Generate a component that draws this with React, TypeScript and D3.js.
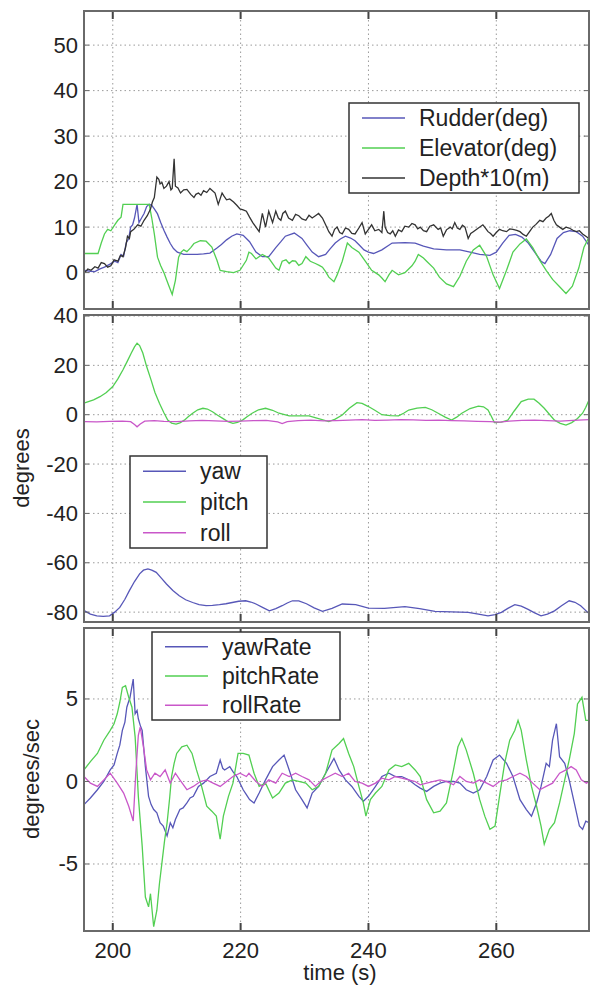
import { line, scaleLinear } from 'd3'

type Pt = [number, number]

// top panel
const rudder: Pt[] = [[195.6,0.5],[196.5,0.3],[197.2,0.2],[198,0.8],[198.7,1.2],[199.5,1.8],[200.3,2.5],[200.8,2.2],[201.3,4],[201.7,3.6],[202.1,6.5],[202.5,7.5],[202.8,10],[203.1,10.5],[203.4,12],[203.8,15],[204.1,11],[204.5,12],[204.9,13],[205.3,14.5],[205.7,15],[206.1,14.8],[206.5,14],[207,12.9],[207.5,11],[208,9.3],[208.5,7.8],[209,6.4],[209.5,5.3],[210.1,4.5],[211.1,4],[212,4],[213.2,4],[214.2,4.1],[215.2,4.3],[216.3,5.4],[217,6.2],[217.8,7.2],[218.6,8],[219.4,8.5],[220.4,8.2],[221.4,6.8],[222.4,4.5],[223.4,3.5],[224.4,3.5],[225.5,5.5],[226.3,6.8],[227,8],[228.4,8.7],[229.6,7.5],[230.4,6],[231.2,4.5],[232.2,3.5],[233.3,4],[234,5.2],[234.8,6.5],[235.6,7.4],[236.4,8],[237.2,7.6],[237.9,7],[238.6,6],[239.3,5],[240,4.5],[240.8,4.2],[242.1,5],[243.7,6.5],[245.7,6.6],[247.3,6.5],[248.6,5.8],[250.2,5.2],[252.2,5],[254.3,5],[255.9,4.5],[257.4,4],[259,3.8],[260,4.5],[261,6.5],[262,8.2],[263,8.4],[264,7.8],[265,6.5],[266,4.5],[267,2.5],[267.6,2],[268.5,4],[269.5,7.5],[270.5,8.8],[271.5,9.2],[272.5,9],[273.5,8],[274.5,6]]
const elevator: Pt[] = [[195.6,4.2],[196.5,4.2],[197.7,4.2],[198.2,6.5],[198.7,8.5],[199.2,9.5],[199.7,9.2],[200.3,10.5],[200.8,11.5],[201.3,12.2],[201.6,15],[203,15],[204.5,15],[205.7,15],[206.1,12],[206.5,8.5],[207,3.4],[207.5,1.5],[208,0],[208.4,-1.5],[208.8,-3],[209.3,-4.8],[209.8,-1.7],[210.3,3.4],[210.7,4.5],[211.1,5],[211.6,4.6],[212.2,5.5],[212.7,6.4],[213.7,7],[214.6,6.9],[215.5,5.6],[216.3,2.7],[216.8,0.5],[217.8,0.2],[218.9,0],[219.9,0.5],[220.9,2.7],[221.3,4.5],[221.7,4.2],[222.4,3],[223.4,4],[224.4,3.2],[225.5,1],[226,0.5],[226.5,2.5],[227.1,2.8],[227.6,2],[228.1,2.6],[228.6,2.5],[229.1,1.6],[229.6,2],[230.2,3.5],[230.9,2.5],[231.7,2],[232.3,1.6],[232.8,1.2],[233.3,0.2],[233.8,-1],[234.6,-2],[235.1,-0.5],[235.9,2.5],[236.3,4.5],[236.7,6.5],[237.4,5.5],[238.5,4.5],[239.5,2.5],[240.5,0.5],[241.6,-0.5],[242.1,-1.2],[242.6,-2],[243.2,-0.5],[243.7,0.5],[244.7,-0.5],[245.7,0],[246.8,1.5],[247.3,2.5],[247.8,4],[248.6,3.2],[249.1,2.5],[250.2,1],[251.1,-1],[252.2,-2.5],[253.3,-3.1],[254.3,-0.8],[255.3,2.5],[256.4,5],[257.4,6],[258.5,3.5],[259.5,-0.5],[260.5,-3.5],[261.6,0.5],[262.6,4.5],[263.7,6.3],[264.7,7.4],[265.7,5.5],[266.8,2.7],[267.8,0.5],[268.8,-1.5],[269.9,-3.1],[270.9,-4.6],[271.9,-3],[272.9,1],[273.7,5.5],[274.5,7.8]]
const depth: Pt[] = [[195.6,0],[196.1,0.8],[196.6,0.5],[197.2,1.3],[197.7,1],[198.2,2.2],[198.7,2],[199.2,1.2],[199.7,1.5],[200.2,2.8],[200.8,2.5],[201.2,3.8],[201.6,3.5],[202,5.5],[202.3,8],[202.6,7.5],[202.8,9],[203.3,9.5],[203.9,10.5],[204.4,10.2],[204.9,11.5],[205.4,12.5],[205.9,14],[206.2,15.5],[206.5,16.5],[206.9,21],[207.2,20.5],[207.4,19.5],[207.7,19.8],[208,18.5],[208.4,19],[208.8,20],[209.1,18.2],[209.3,18.5],[209.6,25],[209.8,19],[210.2,18.6],[210.6,17.5],[211.1,18.2],[211.6,18.3],[212.2,17.2],[212.7,16.5],[213,17.2],[213.4,17.5],[213.8,17],[214.2,18],[214.7,17.6],[215.2,18.5],[215.6,18],[216,17.5],[216.5,15],[217.1,17.5],[217.4,16.8],[217.8,16],[218.3,16.2],[218.9,15.5],[219.4,14.8],[219.9,14],[220.4,13.8],[220.9,13.5],[221.4,12.2],[221.9,11],[222.4,10],[222.9,9],[223.4,13],[223.9,10],[224.4,13.5],[225,11],[225.5,13.5],[225.9,12],[226.3,11.5],[226.6,13],[227,13.5],[227.5,12],[228.1,11.5],[228.6,12.8],[229.1,12.5],[229.6,11.8],[230.2,11.5],[230.7,12.6],[231.2,12],[231.7,12.5],[232.2,13],[232.8,12],[233.3,10.5],[233.8,9],[234.3,8],[234.7,9.5],[235.1,10],[235.5,8.8],[235.9,8.5],[236.4,9.8],[236.9,9.5],[237.4,8.6],[237.9,8.5],[238.5,9.8],[239,11],[239.5,8.5],[240,9.5],[240.5,10.5],[241,9.2],[241.6,9.5],[242.1,8.8],[242.4,13.5],[242.6,10],[243,8.8],[243.4,8.5],[243.8,9.2],[244.2,8],[244.7,9.4],[245.2,9],[245.7,10.2],[246.3,10],[246.8,10.8],[247.3,10.5],[247.7,9.6],[248.1,10],[248.6,9.2],[249.1,9],[249.6,10.2],[250.2,10.5],[250.9,9.5],[251.3,9.8],[251.7,8],[252.2,9.4],[252.8,10],[253.1,9.6],[253.5,11],[253.9,9.8],[254.3,9.5],[254.7,10.4],[255.1,10],[255.6,7.5],[256,8.6],[256.4,9],[257.2,9.8],[257.9,10.5],[258.3,9.8],[258.7,9],[259.1,8.6],[259.5,8],[260,8.8],[260.5,9.5],[261,9.2],[261.6,9],[262.1,9.6],[262.6,9.5],[263.2,9.3],[263.7,9],[264.2,8.4],[264.7,8],[265.2,9],[265.7,10],[266.2,10.6],[266.8,11.5],[267.3,11.2],[267.8,12],[268.2,12.4],[268.6,13],[269,11.5],[269.4,10.5],[269.9,10],[270.4,9.5],[270.9,10],[271.4,9.8],[272,9.3],[272.5,9],[273,9.2],[273.5,8.5],[274,8],[274.5,7.5]]

// middle panel
const yaw: Pt[] = [[195.6,-79.5],[196.5,-80.8],[197.5,-81.5],[198.5,-81.7],[199.5,-81.5],[200.3,-80],[201.1,-78.1],[201.9,-74.8],[202.6,-71.3],[203.4,-67.6],[204.2,-64.5],[204.8,-63],[205.5,-62.5],[206.1,-63],[206.8,-63.9],[207.6,-66.2],[208.4,-68.6],[209.4,-71.2],[210.4,-73.4],[211.4,-75],[212.5,-76.1],[213.5,-77],[214.6,-77.4],[215.6,-77.3],[216.7,-77],[217.7,-76.6],[218.7,-76.1],[219.7,-75.6],[220.8,-75.4],[221.6,-75.9],[222.4,-76.7],[223.5,-78.2],[224.5,-79.5],[225.5,-78.6],[226.5,-77.4],[227.3,-76.3],[228.1,-75.4],[229.1,-75.4],[230.3,-76.6],[231.5,-78.3],[232.8,-79.7],[234.3,-78.5],[235.9,-76.7],[238,-77],[240,-78.4],[242.5,-78.5],[245.7,-77.8],[248,-78.6],[250.4,-79.7],[253,-79.9],[255.6,-80.1],[257.2,-80.8],[258.7,-81.5],[259.8,-81],[260.8,-80.1],[261.8,-78.5],[262.9,-77],[263.9,-77.6],[264.9,-78.8],[266,-80.3],[267,-81.5],[268,-80.8],[269.1,-79.5],[270.2,-77.4],[271.4,-75.4],[272.3,-76],[273.2,-77.4],[274.3,-80.1],[274.5,-80.5]]
const pitch: Pt[] = [[195.6,4.8],[197,6],[198,7.3],[199,9],[200,11.4],[200.8,14.5],[201.6,18.2],[202.3,21.8],[202.9,25],[203.4,27.5],[203.8,29],[204.2,28],[204.7,25],[205.3,19.5],[206,14],[206.6,9],[207.3,4.6],[208,0.8],[208.6,-2.2],[209.2,-3.4],[209.9,-3.8],[210.5,-3.3],[211.2,-2.2],[211.8,-0.8],[212.5,0.6],[213.3,2],[214.1,2.6],[214.8,2.3],[215.6,1.2],[216.4,-0.2],[217.2,-1.5],[218,-2.8],[218.8,-3.5],[219.5,-3.1],[220.3,-2.2],[221,-0.8],[221.8,0.6],[222.8,2],[223.9,2.6],[225,1.8],[226,0.6],[227.6,-0.5],[229.1,-0.5],[230.7,-0.5],[232.2,-1.6],[233.8,-2.8],[234.8,-1.8],[235.9,-0.1],[237,2.6],[238.2,4.9],[239,4.6],[240,3.3],[241,1.8],[242.1,0],[243.4,-0.4],[244.7,-0.5],[245.5,0.6],[246.3,1.9],[247.6,2.7],[248.9,3],[249.9,2],[250.9,0.6],[252,-1],[253,-2.2],[253.8,-1],[254.6,0.6],[255.9,2.5],[257.2,3.5],[258,3.2],[258.7,1.9],[259.2,-0.5],[259.7,-3.2],[260.8,-3],[261.8,-2.2],[262.8,1.5],[263.9,5.3],[265,6.3],[265.9,6.3],[266.7,4.6],[267.5,2.6],[268.3,0.2],[269.1,-2.2],[270,-3.5],[270.9,-4.2],[271.8,-3.2],[272.7,-1.5],[273.5,0.6],[274,3],[274.5,6]]
const roll: Pt[] = [[195.6,-2.8],[197.5,-2.9],[199.5,-2.7],[201.5,-2.6],[202.8,-2.8],[203.4,-4],[203.8,-4.9],[204.3,-3.8],[205,-2.6],[206.5,-2.4],[208,-2.7],[210,-2.8],[212,-2.5],[214,-2.3],[216,-2.5],[218,-2.7],[220,-2.6],[222,-2.4],[224,-2.3],[225.8,-2.9],[226.5,-3.6],[227.3,-2.8],[229,-2.4],[231,-2.2],[233,-2.5],[235,-2.4],[237,-2.2],[239,-2],[241,-2.3],[243,-2.2],[245,-2],[247,-2.1],[249,-2.3],[251,-2.2],[253,-2.4],[255,-2.5],[257,-2.7],[259,-2.8],[260.5,-3],[262,-2.6],[264,-2.3],[266,-2.2],[268,-2.4],[270,-2.6],[272,-2.3],[274.5,-2]]

// bottom panel
const yawRate: Pt[] = [[195.5,-1.4],[196.5,-1],[197.6,-0.5],[198.6,0],[199.6,0.7],[200.2,1],[200.7,1.7],[201.1,2.2],[201.5,3.1],[201.9,3.6],[202.2,4.5],[202.7,5.1],[203.2,6.2],[203.5,4.1],[203.8,4.3],[204,3.8],[204.3,3.4],[204.6,3.1],[205.1,0.9],[205.6,-0.9],[206,-1.4],[206.4,-1.7],[206.9,-1.9],[207.4,-2.5],[207.9,-2.7],[208.5,-3.3],[209,-2.5],[209.4,-2.8],[209.8,-2.3],[210.5,-1.7],[211,-1.6],[211.6,-1.3],[212.1,-1],[212.6,-0.9],[213,-0.6],[213.4,-0.3],[214.2,-0.1],[215.2,0.3],[216.2,0.5],[216.8,1.3],[217.2,0.8],[217.5,0.7],[218.3,0.9],[218.8,0.6],[219.4,0.3],[220.4,-0.5],[220.9,-0.8],[221.4,-1.1],[222.1,-1.3],[222.9,-0.7],[223.9,0.1],[225,0.9],[226,1.3],[226.8,1.6],[227.6,0.7],[228.6,-0.5],[229.6,-1.1],[230.4,-1.6],[231.2,-0.7],[232.2,-0.3],[233.3,0.5],[234.6,1.4],[235.4,0.7],[236.4,0.1],[237.4,-0.3],[238.5,-0.9],[239.2,-1.2],[240,-0.9],[241.1,-0.3],[242.1,0.3],[243.2,0.5],[244.2,0.3],[245.2,0.3],[246.3,0.1],[247.3,-0.2],[248.1,-0.4],[249.1,-0.6],[250.2,-0.3],[251.2,-0.1],[252.2,0],[253.3,0],[254.3,-0.1],[255.3,-0.5],[256.4,-0.7],[257.4,-0.5],[258.5,0.3],[259.5,1.3],[260.5,1.6],[261.6,1.1],[262.6,0.3],[263.7,-1.1],[264.7,-1.7],[265.5,-2.1],[266.3,-1.3],[267,-0.3],[267.8,1.1],[268.3,0.9],[268.8,2.5],[269.4,3.5],[269.9,1.5],[270.7,1.1],[271.4,0.1],[272.2,-1.3],[273,-2.7],[273.5,-2.9],[274,-2.4],[274.5,-2.5]]
const pitchRate: Pt[] = [[195.5,0.7],[196.5,1.2],[197.6,1.7],[198.6,2.5],[199.6,3.1],[200.2,3.5],[200.7,4.1],[201.1,4.8],[201.5,5.7],[202,5.8],[202.5,5.1],[203,4.5],[203.5,2.7],[204,-0.9],[204.6,-3.9],[205.1,-7],[205.6,-7.6],[205.9,-6.8],[206.4,-8.8],[206.9,-7.8],[207.3,-6.2],[207.7,-4.9],[208.1,-3.6],[208.5,-2.5],[208.9,-1],[209.2,0.3],[209.6,1.1],[210,1.7],[210.8,2.1],[211.6,2.2],[212.4,1.7],[213.1,0.7],[213.9,-0.3],[214.7,-1.5],[215.5,-1.8],[216.2,-2.1],[216.8,-3.5],[217.3,-2.1],[218.1,-0.9],[218.8,-0.1],[219.6,1.7],[220.4,1.7],[221.3,1.6],[222.1,0.5],[222.9,-0.3],[223.9,-0.1],[225,-1],[226,-0.7],[227,-0.1],[228.1,0.1],[229.1,0],[230.2,-0.1],[231.2,-0.5],[232.2,-0.3],[233.3,0.5],[234.3,1.9],[235.4,2.3],[236.1,2.6],[236.9,1.7],[237.7,0.9],[238.5,-0.3],[239.2,-1.3],[239.6,-2.1],[240.3,-1.1],[241.1,-0.7],[242.1,-0.3],[243.2,0.7],[244.2,1],[245.2,0.9],[246.3,1.1],[247.3,0.7],[248.1,0.3],[249.1,-1.1],[250.2,-1.9],[251.2,-1.8],[252.2,-1.3],[253.3,0.7],[254,2.1],[254.6,2.6],[255.3,1.9],[256.4,0.5],[257.4,-1.1],[258.2,-2.1],[259,-2.9],[259.8,-2.7],[260.5,-0.9],[261.3,1.1],[262.1,2.5],[262.9,3.1],[263.4,3.7],[263.9,3.1],[264.7,1.3],[265.5,-0.3],[266.3,-1.5],[267,-2.7],[267.5,-3.8],[268.3,-2.9],[269.1,-2.5],[269.9,-1.3],[270.7,0.1],[271.4,1.3],[272.2,2.9],[272.7,4.7],[273.4,5.1],[274,3.7],[274.5,3.7]]
const rollRate: Pt[] = [[195.5,0.3],[196.5,-0.1],[197.6,-0.3],[198.6,0.1],[199.6,0.5],[200.7,-0.1],[201.7,-0.7],[202.5,-1.5],[203.2,-2.4],[203.6,0.5],[204,2.8],[204.3,3.3],[204.8,2.1],[205.3,0.7],[205.9,0.1],[206.6,0.5],[207.4,0.3],[208.2,0.7],[209,-0.1],[209.8,0.5],[210.5,0.1],[211.6,-0.5],[212.6,-0.3],[213.7,0],[214.7,0.1],[215.7,-0.1],[216.8,-0.3],[217.8,0],[218.8,0.3],[219.9,0.5],[220.9,0.3],[221.3,0.5],[222.4,0],[223.4,-0.3],[224.4,0.1],[225.5,-0.1],[226.5,0.5],[227.6,0.3],[228.6,0.5],[229.6,0.3],[230.7,0.1],[231.7,-0.3],[232.8,0.1],[233.8,0.3],[234.8,0.5],[235.9,0.3],[236.9,0.5],[237.9,0],[239,-0.1],[240,-0.3],[241.1,-0.1],[242.1,0.2],[243.2,0.1],[244.2,0.3],[245.2,0.2],[246.3,0.1],[247.3,0],[248.1,-0.2],[249.1,-0.1],[250.2,0],[251.2,0.1],[252.2,0],[253.3,-0.2],[254.3,0.3],[255.3,0],[256.4,-0.1],[257.4,0.1],[258.5,-0.1],[259.5,-0.3],[260.5,0],[261.6,0.1],[262.6,0.3],[263.7,0.5],[264.7,0.3],[265.7,-0.1],[266.8,-0.5],[267.8,-0.3],[268.8,-0.1],[269.9,0.5],[270.9,0.7],[271.7,0.9],[272.5,0.7],[273.3,0.1],[274.1,-0.1],[274.5,0]]

const xTicks = [200, 220, 240, 260]
const topTicks = [0, 10, 20, 30, 40, 50]
const midTicks = [40, 20, 0, -20, -40, -60, -80]
const botTicks = [5, 0, -5]

const BLUE = '#5757b8'
const GREEN = '#52cf52'
const DARK = '#333333'
const MAGENTA = '#c957c9'
const FONT = '"Liberation Sans", Arial, sans-serif'

const left = 84
const right = 589
const x = scaleLinear().domain([195.5, 274.5]).range([left, right])

interface Series {
  name: string
  data: Pt[]
  color: string
}

interface PanelProps {
  id: string
  top: number
  bottom: number
  domain: [number, number]
  ticks: number[]
  series: Series[]
  legend: { x: number; y: number; w: number; h: number; lineX: number; textX: number }
  fontLegend?: number
}

const Panel = ({ id, top, bottom, domain, ticks, series, legend }: PanelProps) => {
  const y = scaleLinear().domain(domain).range([bottom, top])
  const path = line<Pt>()
    .x((d) => x(d[0]))
    .y((d) => y(d[1]))
  const rowGap = legend.h / 3
  return (
    <g>
      <clipPath id={id}>
        <rect x={left} y={top} width={right - left} height={bottom - top} />
      </clipPath>
      <rect x={left} y={top} width={right - left} height={bottom - top} fill="#fff" />
      {ticks.map((t) => (
        <line key={'gy' + t} x1={left} x2={right} y1={y(t)} y2={y(t)} stroke="#9a9a9a" strokeDasharray="1.5 3" />
      ))}
      {xTicks.map((t) => (
        <line key={'gx' + t} x1={x(t)} x2={x(t)} y1={top} y2={bottom} stroke="#9a9a9a" strokeDasharray="1.5 3" />
      ))}
      <g clipPath={`url(#${id})`}>
        {series.map((s) => (
          <path key={s.name} d={path(s.data) ?? ''} fill="none" stroke={s.color} strokeWidth={1.3} />
        ))}
      </g>
      {xTicks.map((t) => (
        <g key={'tx' + t} stroke="#444" strokeWidth={2}>
          <line x1={x(t)} x2={x(t)} y1={top} y2={top + 8} />
          <line x1={x(t)} x2={x(t)} y1={bottom} y2={bottom - 8} />
        </g>
      ))}
      {ticks.map((t) => (
        <g key={'ty' + t} stroke="#666" strokeWidth={1}>
          <line x1={left} x2={left + 5} y1={y(t)} y2={y(t)} />
          <line x1={right} x2={right - 5} y1={y(t)} y2={y(t)} />
        </g>
      ))}
      <rect x={left} y={top} width={right - left} height={bottom - top} fill="none" stroke="#6a6a6a" strokeWidth={2} />
      {ticks.map((t) => (
        <text
          key={'ly' + t}
          x={left - 6}
          y={y(t)}
          textAnchor="end"
          dominantBaseline="central"
          fontSize={22}
          fontFamily={FONT}
          fill="#222"
        >
          {t}
        </text>
      ))}
      <rect x={legend.x} y={legend.y} width={legend.w} height={legend.h} fill="#fff" stroke="#333" strokeWidth={1.5} />
      {series.map((s, i) => {
        const ry = legend.y + rowGap * (i + 0.5)
        return (
          <g key={'lg' + s.name}>
            <line x1={legend.lineX} x2={legend.lineX + 43} y1={ry} y2={ry} stroke={s.color} strokeWidth={1.5} />
            <text x={legend.textX} y={ry + 8} fontSize={23} fontFamily={FONT} fill="#222">
              {s.name}
            </text>
          </g>
        )
      })}
    </g>
  )
}

const App = () => {
  return (
    <svg
      width={591}
      height={986}
      viewBox="0 0 591 986"
      style={{ position: 'absolute', left: 0, top: 0, background: '#fff' }}
    >
      <rect width={591} height={986} fill="#fff" />
      <Panel
        id="c1"
        top={11}
        bottom={309}
        domain={[-8, 57.5]}
        ticks={topTicks}
        series={[
          { name: 'Rudder(deg)', data: rudder, color: BLUE },
          { name: 'Elevator(deg)', data: elevator, color: GREEN },
          { name: 'Depth*10(m)', data: depth, color: DARK },
        ]}
        legend={{ x: 349, y: 103, w: 230, h: 90, lineX: 362, textX: 419 }}
      />
      <Panel
        id="c2"
        top={315}
        bottom={622}
        domain={[-84, 40.4]}
        ticks={midTicks}
        series={[
          { name: 'yaw', data: yaw, color: BLUE },
          { name: 'pitch', data: pitch, color: GREEN },
          { name: 'roll', data: roll, color: MAGENTA },
        ]}
        legend={{ x: 130, y: 456, w: 137, h: 92, lineX: 143, textX: 200 }}
      />
      <Panel
        id="c3"
        top={628}
        bottom={931}
        domain={[-9.06, 9.3]}
        ticks={botTicks}
        series={[
          { name: 'yawRate', data: yawRate, color: BLUE },
          { name: 'pitchRate', data: pitchRate, color: GREEN },
          { name: 'rollRate', data: rollRate, color: MAGENTA },
        ]}
        legend={{ x: 152, y: 632, w: 188, h: 88, lineX: 165, textX: 222 }}
      />
      {xTicks.map((t) => (
        <text key={t} x={x(t)} y={958} textAnchor="middle" fontSize={22} fontFamily={FONT} fill="#222">
          {t}
        </text>
      ))}
      <text x={340} y={980} textAnchor="middle" fontSize={22} fontFamily={FONT} fill="#222">
        time (s)
      </text>
      <text
        transform="translate(29,468) rotate(-90)"
        textAnchor="middle"
        fontSize={22}
        fontFamily={FONT}
        fill="#222"
      >
        degrees
      </text>
      <text
        transform="translate(39,779) rotate(-90)"
        textAnchor="middle"
        fontSize={22}
        fontFamily={FONT}
        fill="#222"
      >
        degrees/sec
      </text>
    </svg>
  )
}

export default App
